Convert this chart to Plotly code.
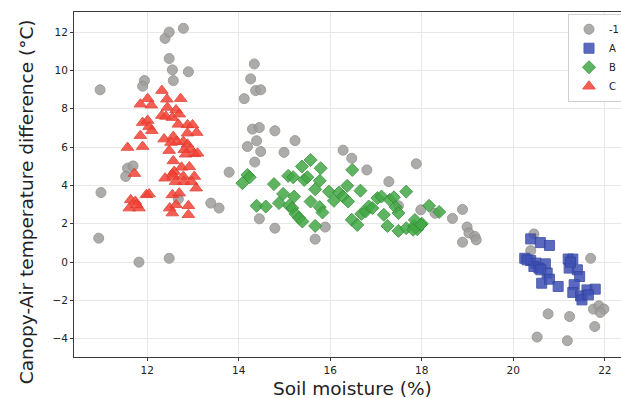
import plotly.graph_objects as go

# Group "-1" (unclassified samples)
gray_x = [10.97, 10.99, 10.94, 11.82, 12.48, 11.57, 11.69, 11.53, 13.39, 13.57, 12.68,
          12.39, 12.48, 12.79, 12.48, 12.55, 12.90, 12.57, 11.94, 11.90,
          14.34, 14.26, 14.37, 14.48, 14.12, 14.30, 14.45, 14.79, 15.23, 14.19, 14.39,
          14.48, 14.99, 14.35, 13.79, 14.45, 14.79, 15.89, 15.67, 16.28, 16.47, 16.80,
          17.28, 17.88, 17.49, 17.98, 18.29, 18.67, 18.89, 18.99, 19.03, 19.16, 19.19,
          18.89, 20.45, 20.38, 21.69, 20.76, 21.23, 21.75, 21.87, 21.98, 21.90, 21.78,
          20.52, 21.18]
gray_y = [8.99, 3.63, 1.25, 0.00, 0.20, 4.90, 5.02, 4.47, 3.08, 2.82, 3.29,
          11.67, 12.00, 12.20, 10.62, 10.03, 9.93, 9.47, 9.47, 9.18,
          10.34, 9.56, 8.95, 8.99, 8.53, 6.94, 7.02, 6.85, 6.34, 6.03, 6.33,
          5.77, 5.73, 5.22, 4.69, 2.26, 1.77, 1.83, 1.20, 5.84, 5.42, 4.81,
          4.20, 5.13, 2.94, 2.73, 2.55, 2.28, 2.75, 1.83, 1.52, 1.34, 1.16,
          1.04, 1.47, 0.60, 0.20, -2.70, -2.84, -2.45, -2.28, -2.45, -2.63, -3.36,
          -3.91, -4.10]

# Group A
a_x = [20.38, 20.59, 20.79, 20.25, 20.38, 20.49, 20.70, 20.45, 20.56, 20.74,
       20.62, 20.79, 20.98, 21.20, 21.30, 21.22, 21.40, 21.45, 21.33, 21.30,
       21.47, 21.61, 21.79, 21.50, 21.64, 20.30, 20.60, 21.25]
a_y = [1.21, 1.02, 0.87, 0.20, 0.08, -0.05, -0.09, -0.23, -0.31, -0.57,
       -1.10, -0.89, -1.27, 0.16, 0.16, -0.31, -0.40, -0.75, -1.18, -1.58,
       -1.76, -1.45, -1.41, -1.97, -1.71, 0.12, -0.40, 0.00]

# Group B
b_x = [14.08, 14.19, 14.24, 14.39, 14.59, 14.77, 14.88, 14.97, 15.08, 15.19,
       15.21, 15.10, 15.17, 15.24, 15.32, 15.39, 15.38, 15.43, 15.50, 15.57,
       15.79, 15.77, 15.67, 15.57, 15.77, 15.83, 15.67, 15.97, 16.08, 16.19,
       16.28, 16.37, 16.48, 16.39, 16.47, 16.59, 16.66, 16.68, 16.77, 16.84,
       16.92, 17.03, 17.12, 17.17, 17.25, 17.30, 17.39, 17.43, 17.49, 17.49,
       17.66, 17.66, 17.83, 18.00, 17.90, 18.16, 18.38, 17.85, 17.98, 17.81]
b_y = [4.12, 4.55, 4.43, 2.94, 2.90, 4.07, 3.08, 3.56, 4.50, 4.43,
       3.42, 2.94, 2.82, 2.52, 2.30, 2.12, 4.99, 4.29, 4.43, 5.33,
       4.90, 4.24, 3.80, 3.16, 2.87, 2.59, 1.89, 3.68, 3.20, 3.63,
       3.42, 3.98, 4.81, 3.16, 2.21, 1.94, 3.73, 2.52, 2.64, 2.90,
       2.82, 3.34, 3.42, 2.47, 1.89, 3.25, 3.38, 2.87, 2.56, 1.63,
       3.68, 1.77, 1.89, 2.00, 1.72, 2.94, 2.62, 2.20, 1.95, 1.69]

# Group C
c_x = [12.32, 12.01, 11.85, 12.09, 12.43, 12.73, 12.44, 12.63, 12.32, 12.41,
       12.55, 12.70, 11.90, 12.01, 12.04, 12.10, 12.68, 12.88, 12.99, 13.08,
       12.88, 11.85, 12.37, 12.57, 12.64, 12.52, 12.79, 12.88, 11.57, 11.90,
       12.48, 12.81, 12.95, 13.03, 13.10, 12.84, 12.57, 11.72, 12.55, 12.75,
       12.92, 12.59, 12.39, 12.57, 12.79, 13.03, 12.62, 12.80, 12.97, 13.07,
       12.55, 12.70, 11.98, 11.64, 11.74, 11.61, 11.82, 11.77, 12.49, 12.55,
       12.63, 12.90, 12.90, 12.04]
c_y = [8.95, 8.53, 8.24, 8.19, 8.50, 8.53, 8.07, 7.94, 7.65, 7.60,
       7.54, 7.72, 7.28, 7.39, 7.07, 6.86, 7.19, 7.16, 7.16, 6.76,
       6.73, 6.60, 6.42, 6.55, 6.29, 6.24, 6.29, 6.15, 5.98, 6.03,
       5.82, 5.86, 5.89, 5.65, 5.68, 5.63, 5.28, 4.62, 4.60, 4.95,
       4.97, 4.73, 4.38, 4.47, 4.47, 4.47, 4.20, 4.20, 4.20, 3.86,
       3.51, 3.60, 3.51, 3.25, 3.16, 2.82, 2.82, 2.99, 2.82, 2.56,
       2.99, 2.94, 2.47, 3.55]

x_ticks = [12, 14, 16, 18, 20, 22]
y_ticks = [-4, -2, 0, 2, 4, 6, 8, 10, 12]

groups = [
    ("-1", gray_x, gray_y, "circle", 10, "#a09e9c", "#8f8d8b"),
    ("A", a_x, a_y, "square", 10, "#3f51b5", "#33449e"),
    ("B", b_x, b_y, "diamond", 10, "#43a845", "#2f8f33"),
    ("C", c_x, c_y, "triangle-up", 11, "#f44336", "#e0392d"),
]

fig = go.Figure()
for name, xs, ys, sym, size, fill, edge in groups:
    fig.add_trace(go.Scatter(
        x=xs, y=ys, mode="markers", name=name,
        marker=dict(symbol=sym, size=size, color=fill, opacity=0.85,
                    line=dict(color=edge, width=1)),
    ))

axis_common = dict(
    showgrid=True, gridcolor="#e8e8e8", gridwidth=1,
    zeroline=False, showline=True, linecolor="#3a3a3a", linewidth=1,
    ticks="outside", ticklen=3, tickcolor="#3a3a3a", tickwidth=1,
    tickfont=dict(family="DejaVu Sans", size=10.5, color="#222222"),
)

fig.update_xaxes(range=[10.40, 22.55], tickvals=x_ticks, mirror=True, **axis_common)
fig.update_yaxes(range=[-4.95, 13.05], tickvals=y_ticks, **axis_common)

fig.add_annotation(text="Soil moisture (%)", xref="paper", yref="paper",
                   x=0.5, y=-0.0899, xanchor="center", yanchor="middle",
                   showarrow=False,
                   font=dict(family="DejaVu Sans", size=18.5, color="#222222"))
fig.add_annotation(text="Canopy-Air temperature difference (°C)", xref="paper",
                   yref="paper", x=-0.0855, y=0.45, xanchor="center",
                   yanchor="middle", textangle=-90, showarrow=False,
                   font=dict(family="DejaVu Sans", size=18.5, color="#222222"))

# The canvas is a little wider than the viewport, so the right edge of the
# axes and the legend box run off the page edge.
fig.update_layout(
    width=640, height=398,
    margin=dict(l=74, r=10, t=12, b=41),
    paper_bgcolor="white", plot_bgcolor="white",
    showlegend=True,
    legend=dict(x=0.8885, y=0.995, xanchor="left", yanchor="top",
                bgcolor="rgba(255,255,255,0.9)", bordercolor="#d0d0d0",
                borderwidth=1, font=dict(family="DejaVu Sans", size=10, color="#222222"),
                itemwidth=30, tracegroupgap=0),
    font=dict(family="DejaVu Sans"),
)

fig.write_html(
    "out.html",
    post_script="document.documentElement.style.overflow='hidden';"
                "document.body.style.overflow='hidden';",
)
